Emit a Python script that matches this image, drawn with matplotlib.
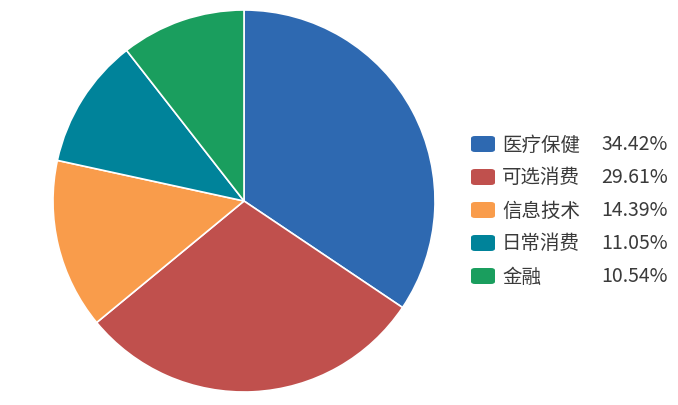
import matplotlib
matplotlib.use('Agg')
import matplotlib.pyplot as plt
from matplotlib.patches import FancyBboxPatch

plt.rcParams['font.family'] = ['Noto Sans CJK SC', 'DejaVu Sans']

sectors = ['医疗保健', '可选消费', '信息技术', '日常消费', '金融']
weights = [34.42, 29.61, 14.39, 11.05, 10.54]
colors = ['#2e69b1', '#c0504d', '#f99c4b', '#00839a', '#1a9e5e']

W, H = 678, 406
fig = plt.figure(figsize=(W / 100, H / 100), dpi=100)

# pie: centre (244, 202), radius 191 px
cx, cy, r = 244, 202, 191
ax = fig.add_axes([(cx - r) / W, (H - cy - r) / H, 2 * r / W, 2 * r / H])
ax.pie(weights, colors=colors, startangle=90, counterclock=False,
       wedgeprops=dict(edgecolor='white', linewidth=1.2))
ax.set_xlim(-1, 1)
ax.set_ylim(-1, 1)
ax.set_aspect('equal')
ax.axis('off')

# legend drawn by hand
row0, step = 145, 33
for i, (name, w, c) in enumerate(zip(sectors, weights, colors)):
    y = row0 + i * step
    box = FancyBboxPatch((471 / W, (H - y - 8) / H), 24 / W, 16 / H,
                         boxstyle='round,pad=0,rounding_size=0.006',
                         transform=fig.transFigure, facecolor=c,
                         edgecolor='none')
    fig.patches.append(box)
    fig.text(502 / W, (H - y) / H, name, fontsize=14, color='#3a3a3a',
             va='center', ha='left')
    fig.text(668 / W, (H - y) / H, '%.2f%%' % w, fontsize=14,
             color='#3a3a3a', va='center', ha='right')

fig.savefig('out.png', dpi=100)
